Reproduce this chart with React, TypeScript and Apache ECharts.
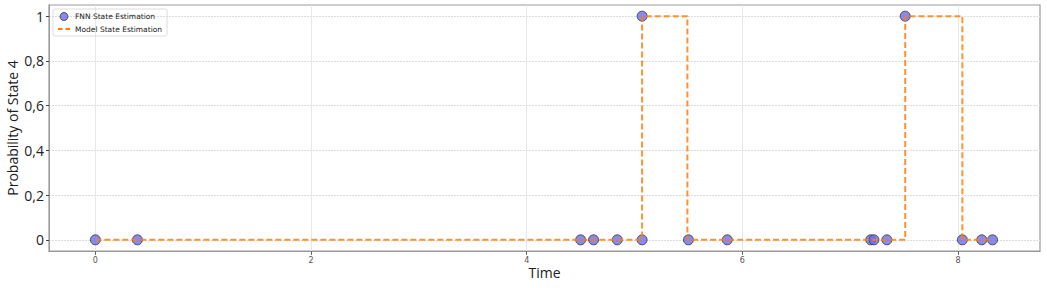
import React, { useEffect, useRef } from "react";
import * as echarts from "echarts";

const fnnTimes = [0, 0.39, 4.5, 4.62, 4.84, 5.07, 5.07, 5.5, 5.86, 7.19, 7.22, 7.34, 7.51, 8.04, 8.22, 8.32];
const fnnValues = [0, 0, 0, 0, 0, 0, 1, 0, 0, 0, 0, 0, 1, 0, 0, 0];
const modelTimes = [0, 5.07, 5.07, 5.49, 5.49, 7.51, 7.51, 8.04, 8.04, 8.32];
const modelValues = [0, 0, 1, 1, 0, 0, 1, 1, 0, 0];
const xTicks = [0, 2, 4, 6, 8];
const yTicks = [0, 0.2, 0.4, 0.6, 0.8, 1];

export default function App() {
  const ref = useRef<HTMLDivElement>(null);
  useEffect(() => {
    if (!ref.current) return;
    const chart = echarts.init(ref.current, null, { renderer: "svg" });
    chart.setOption({
      animation: false,
      grid: {
        left: 49, right: 7, top: 5, bottom: 37, show: true,
        borderColor: "#999", borderWidth: 1.2,
        containLabel: false, outerBoundsMode: "none",
      },
      legend: {
        left: 53,
        top: 9,
        orient: "vertical",
        itemGap: 4,
        itemWidth: 12,
        itemHeight: 8,
        padding: [3, 5, 3, 5],
        borderColor: "#ddd",
        borderWidth: 1,
        borderRadius: 2,
        textStyle: { fontSize: 7.5, fontFamily: "DejaVu Sans", color: "#222" },
        data: [
          { name: "FNN State Estimation", icon: "circle", itemStyle: { color: "#6b6bec", borderColor: "#333", borderWidth: 1 } },
          { name: "Model State Estimation", icon: "path://M0,0h5v2h-5z M8,0h5v2h-5z", itemStyle: { color: "#ff7f0e" }, lineStyle: { opacity: 0 } },
        ],
      },
      xAxis: {
        type: "value",
        min: -0.43,
        max: 8.76,
        name: "Time",
        nameLocation: "middle",
        nameGap: 14,
        nameMoveOverlap: false,
        nameTextStyle: { fontSize: 14, fontFamily: "Open Sans", color: "#222" },
        axisLine: { show: true, onZero: false, lineStyle: { color: "#999" } },
        axisTick: { show: true, customValues: xTicks, length: 4, lineStyle: { color: "#666" } },
        axisLabel: { customValues: xTicks, fontSize: 8, color: "#555", fontFamily: "DejaVu Sans", margin: 5 },
        splitLine: { show: true, lineStyle: { color: "#e8e8e8", width: 1 } },
      },
      yAxis: {
        type: "value",
        min: -0.05,
        max: 1.05,
        name: "Probability of State 4",
        nameLocation: "middle",
        nameGap: 30,
        nameMoveOverlap: false,
        nameTextStyle: { fontSize: 14, fontFamily: "Open Sans", color: "#222" },
        axisLine: { show: true, onZero: false, lineStyle: { color: "#999" } },
        axisTick: { show: true, customValues: yTicks, length: 3, lineStyle: { color: "#444" } },
        axisLabel: {
          customValues: yTicks,
          fontSize: 14,
          color: "#222",
          fontFamily: "Open Sans",
          margin: 5,
          formatter: (v: number) => String(Math.round(v * 10) / 10).replace(".", ","),
        },
        splitLine: { show: true, lineStyle: { color: "#ddd", width: 1, type: [2, 1] } },
      },
      series: [
        {
          name: "FNN State Estimation",
          type: "scatter",
          symbol: "circle",
          symbolSize: 10,
          z: 2,
          itemStyle: { color: "#6b6bec", borderColor: "#333", borderWidth: 1 },
          data: fnnTimes.map((t, i) => [t, fnnValues[i]]),
        },
        {
          name: "Model State Estimation",
          type: "line",
          showSymbol: false,
          symbol: "none",
          z: 3,
          lineStyle: { color: "#ff7f0e", width: 2, type: [6, 3], opacity: 0.85 },
          itemStyle: { color: "#ff7f0e" },
          data: modelTimes.map((t, i) => [t, modelValues[i]]),
        },
      ],
    });
    return () => chart.dispose();
  }, []);
  return <div ref={ref} style={{ width: 1047, height: 288, position: "absolute", left: 0, top: 0 }} />;
}
